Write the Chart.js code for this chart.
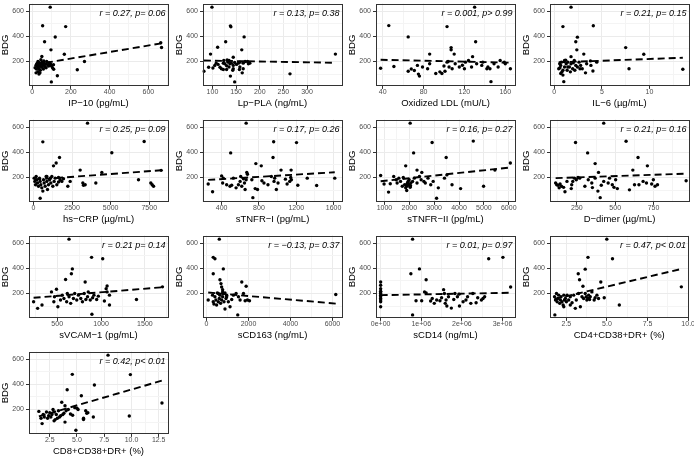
<!DOCTYPE html>
<html>
<head>
<meta charset="utf-8">
<title>BDG correlations</title>
<script src="https://cdn.jsdelivr.net/npm/chart.js@4.4.1/dist/chart.umd.min.js"></script>
<style>
  html, body { margin: 0; padding: 0; background: #fff; }
  #board { position: relative; width: 694px; height: 458px; overflow: hidden; }
  #board canvas { position: absolute; }
</style>
</head>
<body>
<div id="board"></div>
<script>
// ---- values ----
const bdgTicks = [200, 400, 600];
const bdgRange = [2, 662];

const ip10Ticks = [0, 200, 400, 600];
const ip10Stat = 'r = 0.27, p= 0.06';
const ip10Pts = [[93,633],[54,485],[173,478],[119,395],[64,357],[97,293],[166,258],[270,200],[233,135],[111,138],[130,87],[99,38],[664,350],[668,312],
  [15,150],[20,170],[22,140],[25,185],[28,160],[30,120],[30,200],[32,175],[35,145],[38,190],[40,165],[40,110],[42,130],[45,215],[48,180],[50,155],
  [50,240],[52,195],[55,170],[58,140],[60,205],[62,185],[65,160],[70,180],[72,150],[75,200],[80,175],[85,165],[88,190],[90,170],[95,180],[100,165],
  [105,150],[110,175],[20,110],[35,100]];
const ip10Fit = [[15,176],[668,345]];

const lpplaTicks = [100, 150, 200, 250, 300];
const lpplaStat = 'r = 0.13, p= 0.38';
const lpplaPts = [[99,633],[138,484],[139,476],[167,396],[128,357],[111,314],[162,293],[96,259],[360,259],[144,234],[92,154],[82,123],[101,149],
  [147,192],[174,200],[165,143],[130,136],[144,143],[138,84],[147,38],[264,102],[163,110],[158,195],[123,187],[126,182],[130,167],[133,195],
  [135,156],[137,182],[140,187],[144,169],[151,177],[155,187],[158,156],[116,154],[119,143],[123,136],[108,187],[105,169],[112,177],[179,187],
  [176,182],[165,187],[169,200],[157,136],[143,130],[135,208],[131,213],[124,208]];
const lpplaFit = [[82,208],[360,190]];

const oxldlTicks = [40, 80, 120, 160];
const oxldlStat = 'r = 0.001, p> 0.99';
const oxldlPts = [[130,633],[46,486],[103,478],[65,396],[131,357],[107,311],[107,293],[86,259],[110,259],[128,239],[38,146],[51,161],[65,123],
  [68,141],[71,128],[75,100],[76,84],[74,169],[79,156],[84,143],[86,182],[96,118],[98,105],[101,123],[100,164],[103,195],[105,156],[108,143],
  [111,182],[115,156],[120,143],[121,195],[124,208],[127,156],[132,182],[137,169],[138,195],[142,143],[143,156],[145,143],[146,40],[149,182],
  [153,156],[155,208],[159,195],[160,182],[165,143],[104,200],[118,170],[92,105]];
const oxldlFit = [[38,214],[165,191]];

const il6Ticks = [0, 5, 10];
const il6Stat = 'r = 0.21, p= 0.15';
const il6Pts = [[1.76,633],[0.91,478],[4.1,485],[2.43,394],[2.26,357],[2.37,293],[7.5,311],[3.1,259],[9.4,258],[1.76,239],[7.85,143],[13.5,138],
  [3.28,110],[2.94,143],[3.4,182],[3.85,169],[4.46,195],[4.06,125],[3.8,205],[0.47,143],[0.68,169],[0.74,195],[0.81,118],[0.91,92],[1.0,40],
  [1.08,208],[1.08,156],[1.25,182],[1.35,130],[1.42,195],[1.59,156],[1.69,118],[1.76,182],[1.93,143],[2.1,208],[2.16,130],[2.26,169],[2.43,156],
  [2.6,195],[2.7,143],[2.77,169],[0.91,130],[0.57,182],[0.68,105],[1.42,156],[0.6,150],[1.2,210],[2.0,190]];
const il6Fit = [[0.47,194],[13.5,230]];

const hscrpTicks = [0, 2500, 5000, 7500];
const hscrpStat = 'r = 0.25, p= 0.09';
const hscrpPts = [[3500,633],[605,484],[7170,487],[5076,397],[1685,360],[1296,293],[1469,316],[3024,259],[4428,241],[1620,200],[1080,195],
  [864,208],[2376,169],[2225,130],[3197,156],[3240,138],[3348,143],[4039,156],[6804,182],[7603,156],[7690,143],[7780,130],[8273,257],[432,35],
  [43,195],[86,169],[130,143],[173,208],[216,182],[259,156],[324,130],[389,195],[432,169],[475,143],[540,118],[605,92],[648,182],[691,156],
  [756,130],[821,208],[864,169],[907,105],[972,143],[1037,182],[1123,156],[1188,208],[1253,130],[1339,169],[1404,195],[1512,143],[1620,164],
  [1728,182],[1836,169],[1944,190]];
const hscrpFit = [[43,183],[8273,258]];

const stnfr1Ticks = [400, 800, 1200, 1600];
const stnfr1Stat = 'r = 0.17, p= 0.26';
const stnfr1Pts = [[663,633],[958,485],[1203,478],[497,396],[951,360],[767,311],[825,293],[1037,259],[1145,259],[670,241],[256,148],[303,87],
  [400,213],[418,195],[411,156],[454,143],[490,130],[508,138],[526,195],[555,118],[580,143],[598,169],[605,208],[616,130],[634,190],[645,156],
  [652,105],[663,182],[677,226],[724,182],[735,40],[760,112],[785,105],[832,174],[854,156],[897,143],[933,208],[962,169],[969,195],[987,105],
  [1005,156],[1084,187],[1102,148],[1130,169],[1141,200],[1148,182],[1217,138],[1318,195],[1419,136],[1613,195]];
const stnfr1Fit = [[256,181],[1613,242]];

const stnfr2Ticks = [1000, 2000, 3000, 4000, 5000, 6000];
const stnfr2Stat = 'r = 0.16, p= 0.27';
const stnfr2Pts = [[2035,633],[2918,479],[4574,490],[2173,396],[3484,360],[1856,293],[2311,259],[2504,241],[6065,316],[848,216],[986,148],
  [1166,84],[1235,151],[1373,208],[1470,182],[1511,156],[1580,195],[1649,169],[1718,130],[1759,200],[1814,143],[1856,118],[1897,130],[1925,156],
  [1952,169],[1994,138],[2035,122],[2063,156],[1994,182],[1897,97],[2132,169],[2201,195],[2311,156],[2408,208],[2477,182],[2587,169],[2643,156],
  [2753,195],[2863,143],[2960,169],[3098,35],[3167,118],[3415,195],[3512,221],[3719,143],[4064,112],[4988,130],[5444,259],[1950,150],[2000,140],
  [2050,135],[1900,145]];
const stnfr2Fit = [[848,170],[6065,280]];

const ddimerTicks = [250, 500, 750];
const ddimerStat = 'r = 0.21, p= 0.16';
const ddimerPts = [[425,633],[241,479],[571,489],[320,396],[649,360],[369,311],[710,293],[615,259],[391,241],[111,156],[118,143],[127,138],
  [134,118],[140,148],[149,130],[163,122],[172,87],[185,169],[213,112],[216,143],[223,169],[234,195],[246,182],[257,200],[268,195],[302,130],
  [324,182],[347,156],[369,195],[387,92],[402,40],[409,138],[425,169],[454,156],[463,195],[481,143],[492,122],[503,182],[514,112],[593,102],
  [626,143],[655,143],[682,169],[704,156],[738,148],[749,182],[760,130],[776,143],[963,174],[351,120]];
const ddimerFit = [[111,195],[963,231]];

const svcamTicks = [500, 1000, 1500];
const svcamStat = 'r = 0.21 p= 0.14';
const svcamPts = [[635,633],[892,488],[1019,477],[673,396],[662,357],[596,312],[819,292],[1069,260],[1700,253],[231,135],[277,82],[327,109],
  [435,213],[462,135],[469,174],[508,95],[538,148],[558,187],[577,161],[608,135],[615,200],[635,174],[654,122],[685,161],[700,200],[723,148],
  [742,187],[769,161],[788,135],[808,200],[827,153],[846,174],[854,213],[877,148],[904,166],[919,187],[950,153],[969,179],[896,35],[1038,140],
  [1069,213],[1096,187],[1096,109],[1404,153],[1058,239],[492,234]];
const svcamFit = [[231,166],[1700,250]];

const scd163Ticks = [0, 2000, 4000, 6000];
const scd163Stat = 'r = \u22120.13, p= 0.37';
const scd163Pts = [[608,633],[320,488],[400,477],[800,396],[320,357],[640,310],[688,279],[1680,292],[1888,258],[6160,192],[720,252],[768,231],
  [1488,30],[80,148],[288,187],[320,135],[352,117],[400,174],[448,148],[480,109],[512,205],[560,135],[608,161],[640,187],[672,122],[720,148],
  [768,174],[800,200],[832,135],[880,77],[928,161],[960,187],[1040,135],[1120,95],[1200,153],[1280,187],[1408,200],[1520,174],[1600,148],
  [1760,200],[1840,142],[1952,148],[2048,143],[960,174],[768,213],[880,205],[560,200]];
const scd163Fit = [[80,208],[6160,120]];

const scd14Ticks = [0, 1e6, 2e6, 3e6];
const scd14Labels = ['0e+00', '1e+06', '2e+06', '3e+06'];
const scd14Stat = 'r = 0.01, p= 0.97';
const scd14Pts = [[0,292],[0,266],[0,239],[0,218],[0,200],[0,187],[0,174],[0,161],[0,148],[0,135],[0,95],[0,213],[786000,633],[744000,357],
  [955000,396],[1120000,310],[786000,30],[2660000,477],[3010000,488],[3200000,252],[871000,143],[1010000,143],[1080000,213],[1120000,205],
  [1230000,140],[1270000,161],[1320000,122],[1380000,148],[1460000,143],[1500000,166],[1550000,231],[1570000,200],[1590000,122],[1610000,148],
  [1670000,174],[1630000,101],[1740000,84],[1800000,153],[1830000,200],[1890000,174],[1930000,195],[1940000,101],[2030000,135],[2100000,148],
  [2140000,174],[2220000,122],[2270000,200],[2350000,127],[2390000,166],[2480000,148],[2520000,161],[2560000,174]];
const scd14Fit = [[0,187],[3200000,206]];

const cd4Ticks = [2.5, 5, 7.5, 10];
const cd4Labels = ['2.5', '5.0', '7.5', '10.0'];
const cd4Stat = 'r = 0.47, p< 0.01';
const cd4Pts = [[4.99,633],[3.83,488],[5.34,477],[3.66,394],[3.23,357],[3.31,310],[3.52,258],[4.62,292],[9.58,253],[5.76,109],[4.83,166],
  [1.79,30],[1.77,174],[1.83,148],[1.89,200],[1.93,135],[1.97,161],[2.03,187],[2.09,122],[2.13,148],[2.17,174],[2.23,135],[2.30,109],[2.34,187],
  [2.38,148],[2.44,161],[2.5,135],[2.54,187],[2.64,148],[2.74,174],[2.85,127],[2.95,187],[3.05,82],[3.11,148],[3.25,200],[3.36,95],[3.46,174],
  [3.56,161],[3.66,200],[3.72,174],[3.76,148],[3.83,161],[3.87,187],[3.93,153],[3.97,174],[4.07,213],[4.21,148],[4.27,166],[4.38,187],[4.48,161],
  [2.74,109],[2.34,95]];
const cd4Fit = [[1.77,156],[9.58,396]];

const cd8Ticks = [2.5, 5, 7.5, 10, 12.5];
const cd8Labels = ['2.5', '5.0', '7.5', '10.0', '12.5'];
const cd8Stat = 'r = 0.42, p< 0.01';
const cd8Pts = [[7.85,633],[4.57,480],[9.9,478],[6.6,395],[4.1,358],[5.4,310],[3.6,258],[12.8,252],[9.8,148],[4.9,35],[6.5,140],[5.6,130],
  [5.6,120],[5.8,190],[5.9,170],[5.0,210],[5.1,200],[4.2,200],[4.0,190],[3.9,230],[3.8,170],[3.7,160],[3.9,100],[3.5,150],[3.2,130],[3.0,120],
  [2.9,180],[2.8,200],[2.7,160],[2.6,140],[2.5,175],[2.4,150],[2.3,130],[2.2,180],[2.0,140],[1.9,160],[1.8,88],[1.7,130],[1.5,185],[2.9,110],
  [3.1,160],[3.3,190],[3.4,140],[4.4,165],[4.6,155],[4.8,215],[6.0,175]];
const cd8Fit = [[1.5,145],[12.8,430]];

// ---- panels, in reading order ----
const panels = [
  { title: 'IP\u221210 (pg/mL)', pts: ip10Pts, fit: ip10Fit, stat: ip10Stat, ticks: ip10Ticks, range: [-19, 704] },
  { title: 'Lp\u2212PLA (ng/mL)', pts: lpplaPts, fit: lpplaFit, stat: lpplaStat, ticks: lpplaTicks, range: [79, 375] },
  { title: 'Oxidized LDL (mU/L)', pts: oxldlPts, fit: oxldlFit, stat: oxldlStat, ticks: oxldlTicks, range: [33, 170] },
  { title: 'IL\u22126 (\u00b5g/mL)', pts: il6Pts, fit: il6Fit, stat: il6Stat, ticks: il6Ticks, range: [-0.5, 14.2] },
  { title: 'hs\u2212CRP (\u00b5g/mL)', pts: hscrpPts, fit: hscrpFit, stat: hscrpStat, ticks: hscrpTicks, range: [-324, 8748] },
  { title: 'sTNFR\u2212I (pg/mL)', pts: stnfr1Pts, fit: stnfr1Fit, stat: stnfr1Stat, ticks: stnfr1Ticks, range: [195, 1696] },
  { title: 'sTNFR\u2212II (pg/mL)', pts: stnfr2Pts, fit: stnfr2Fit, stat: stnfr2Stat, ticks: stnfr2Ticks, range: [641, 6272] },
  { title: 'D\u2212dimer (\u00b5g/mL)', pts: ddimerPts, fit: ddimerFit, stat: ddimerStat, ticks: ddimerTicks, range: [71, 985] },
  { title: 'sVCAM\u22121 (pg/mL)', pts: svcamPts, fit: svcamFit, stat: svcamStat, ticks: svcamTicks, range: [173, 1769] },
  { title: 'sCD163 (ng/mL)', pts: scd163Pts, fit: scd163Fit, stat: scd163Stat, ticks: scd163Ticks, range: [-192, 6480] },
  { title: 'sCD14 (ng/mL)', pts: scd14Pts, fit: scd14Fit, stat: scd14Stat, ticks: scd14Ticks, labels: scd14Labels, range: [-127000, 3320000] },
  { title: 'CD4+CD38+DR+ (%)', pts: cd4Pts, fit: cd4Fit, stat: cd4Stat, ticks: cd4Ticks, labels: cd4Labels, range: [1.46, 10.05] },
  { title: 'CD8+CD38+DR+ (%)', pts: cd8Pts, fit: cd8Fit, stat: cd8Stat, ticks: cd8Ticks, labels: cd8Labels, range: [0.55, 13.4] }
];

// ---- layout ----
const FONT = '"Liberation Sans", Arial, Helvetica, sans-serif';
const CELL_W = 173.5, ROW_PITCH = 115.8, ROW_SHIFT = -1.7;
const CANVAS_W = 174, CANVAS_H = 116;
const PLOT_LEFT = 28.5, PLOT_RIGHT_PAD = 5.5, PLOT_TOP = 3.4, PLOT_H = 85;

Chart.defaults.font.family = FONT;

// add the half-way minor breaks ggplot draws between the labelled ones
function withMinor(major, range) {
  const step = major[1] - major[0];
  const out = major.slice();
  for (let v = major[0] - step / 2; v <= range[1] + step * 1e-6; v += step) {
    if (v >= range[0]) out.push(v);
  }
  return out.sort((a, b) => a - b);
}

function isIn(list, v) {
  const step = list.length > 1 ? list[1] - list[0] : 1;
  return list.some(t => Math.abs(t - v) < Math.abs(step) * 1e-6);
}

const framePlugin = {
  id: 'frame',
  afterDraw(chart, args, opts) {
    const a = chart.chartArea;
    const ctx = chart.ctx;
    ctx.save();
    ctx.strokeStyle = '#333333';
    ctx.lineWidth = 1;
    const l = Math.round(a.left) + 0.5, t = Math.round(a.top) + 0.5;
    const r = Math.round(a.right) - 0.5, b = Math.round(a.bottom) - 0.5;
    ctx.strokeRect(l, t, r - l, b - t);
    ctx.fillStyle = '#000';
    ctx.font = 'italic 9px ' + FONT;
    ctx.textAlign = 'right';
    ctx.textBaseline = 'middle';
    ctx.fillText(opts.stat, a.right - 3, a.top + 9.5);
    ctx.restore();
  }
};

const board = document.getElementById('board');

panels.forEach((p, i) => {
  const col = i % 4, row = Math.floor(i / 4);
  const cv = document.createElement('canvas');
  cv.width = CANVAS_W;
  cv.height = CANVAS_H;
  cv.style.width = CANVAS_W + 'px';
  cv.style.height = CANVAS_H + 'px';
  cv.style.left = Math.round(col * CELL_W) + 'px';
  cv.style.top = (row * ROW_PITCH + ROW_SHIFT) + 'px';
  board.appendChild(cv);

  const xAll = withMinor(p.ticks, p.range);
  const yAll = withMinor(bdgTicks, bdgRange);
  const xLabel = v => {
    const k = p.ticks.findIndex(t => Math.abs(t - v) < 1e-9 * Math.max(1, Math.abs(t)));
    if (k < 0) return '';
    return p.labels ? p.labels[k] : String(p.ticks[k]);
  };

  new Chart(cv, {
    type: 'scatter',
    data: {
      datasets: [
        {
          type: 'line',
          data: p.fit.map(([x, y]) => ({ x, y })),
          borderColor: '#000',
          borderWidth: 1.9,
          borderDash: [7, 4],
          pointRadius: 0,
          fill: false,
          tension: 0
        },
        {
          data: p.pts.map(([x, y]) => ({ x, y })),
          pointRadius: 1.7,
          pointBackgroundColor: '#000',
          pointBorderWidth: 0,
          showLine: false
        }
      ]
    },
    options: {
      responsive: false,
      animation: false,
      events: [],
      layout: { padding: { left: 0, right: PLOT_RIGHT_PAD, top: PLOT_TOP, bottom: 0 } },
      plugins: {
        legend: { display: false },
        tooltip: { enabled: false },
        frame: { stat: p.stat }
      },
      scales: {
        x: {
          type: 'linear',
          min: p.range[0],
          max: p.range[1],
          afterBuildTicks: s => { s.ticks = xAll.map(v => ({ value: v })); },
          afterFit: s => { s.height = CANVAS_H - PLOT_TOP - PLOT_H; },
          ticks: {
            autoSkip: false,
            maxRotation: 0,
            padding: 0,
            color: '#4d4d4d',
            font: { size: 7, lineHeight: 1 },
            callback: v => xLabel(v)
          },
          grid: {
            color: c => (c.tick && isIn(p.ticks, c.tick.value)) ? '#ebebeb' : '#f4f4f4',
            tickColor: c => (c.tick && isIn(p.ticks, c.tick.value)) ? '#333333' : 'rgba(0,0,0,0)',
            tickLength: 2.5,
            drawTicks: true
          },
          border: { display: false },
          title: {
            display: true,
            text: p.title,
            color: '#000',
            font: { size: 9.5 },
            padding: { top: 0, bottom: 4.6 }
          }
        },
        y: {
          type: 'linear',
          min: bdgRange[0],
          max: bdgRange[1],
          afterBuildTicks: s => { s.ticks = yAll.map(v => ({ value: v })); },
          afterFit: s => { s.width = PLOT_LEFT; },
          ticks: {
            autoSkip: false,
            padding: 2,
            color: '#4d4d4d',
            font: { size: 7, lineHeight: 1 },
            callback: v => isIn(bdgTicks, v) ? String(v) : ''
          },
          grid: {
            color: c => (c.tick && isIn(bdgTicks, c.tick.value)) ? '#ebebeb' : '#f4f4f4',
            tickColor: c => (c.tick && isIn(bdgTicks, c.tick.value)) ? '#333333' : 'rgba(0,0,0,0)',
            tickLength: 2.5,
            drawTicks: true
          },
          border: { display: false },
          title: {
            display: true,
            text: 'BDG',
            color: '#000',
            font: { size: 9.5 },
            padding: { top: 0, bottom: 0 }
          }
        }
      }
    },
    plugins: [framePlugin]
  });
});
</script>
</body>
</html>
